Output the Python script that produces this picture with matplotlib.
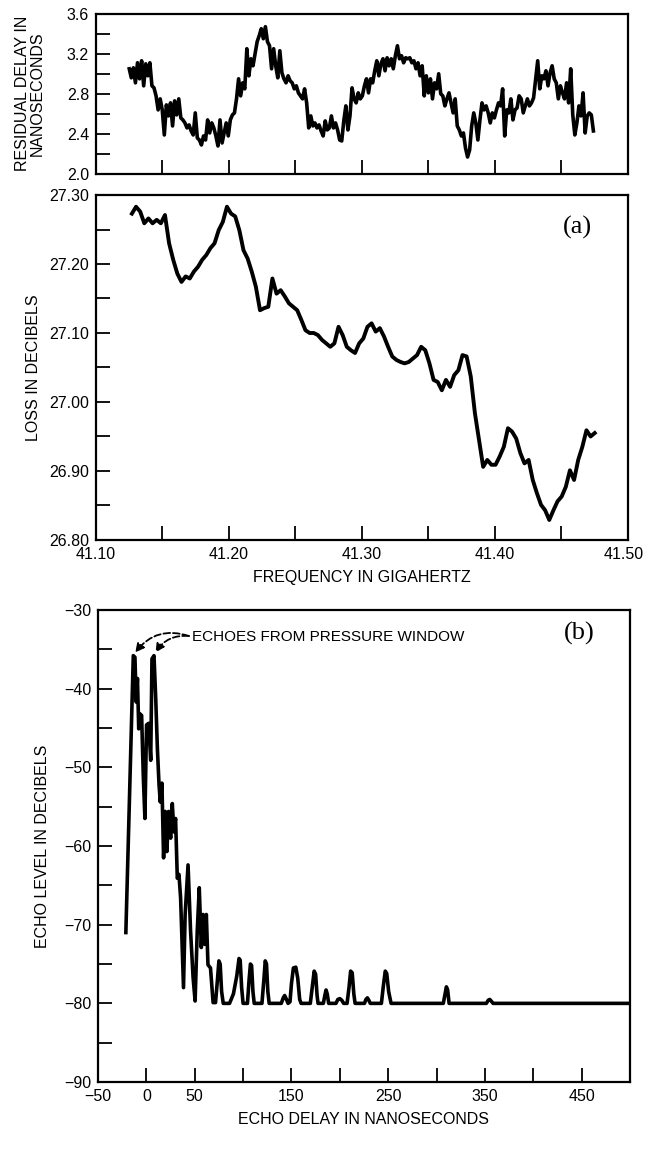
import numpy as np
import matplotlib
matplotlib.use("Agg")
import matplotlib.pyplot as plt
from matplotlib.transforms import ScaledTranslation

plt.rcParams['font.family'] = ['Liberation Sans', 'DejaVu Sans']

# residual delay (ns); uniform frequency sweep
delay = [3.05, 2.96, 3.06, 2.91, 3.11, 2.95, 3.13, 2.88, 3.10, 2.98, 3.11, 2.88, 2.86, 2.78, 2.64,
         2.75, 2.64, 2.39, 2.69, 2.58, 2.71, 2.48, 2.73, 2.59, 2.75, 2.56, 2.54, 2.51, 2.46, 2.49,
         2.43, 2.39, 2.61, 2.36, 2.34, 2.29, 2.38, 2.34, 2.54, 2.41, 2.51, 2.46, 2.38, 2.28, 2.54,
         2.31, 2.41, 2.51, 2.38, 2.54, 2.59, 2.61, 2.75, 2.95, 2.78, 2.91, 2.85, 3.25, 2.98, 3.15,
         3.08, 3.20, 3.32, 3.38, 3.45, 3.35, 3.47, 3.32, 3.28, 3.05, 3.25, 3.08, 2.96, 3.23, 3.01,
         2.95, 2.91, 2.98, 2.93, 2.91, 2.85, 2.88, 2.81, 2.78, 2.75, 2.85, 2.71, 2.46, 2.58, 2.48,
         2.51, 2.46, 2.49, 2.43, 2.38, 2.53, 2.44, 2.46, 2.58, 2.46, 2.51, 2.44, 2.34, 2.33, 2.53,
         2.68, 2.44, 2.58, 2.86, 2.75, 2.71, 2.81, 2.75, 2.78, 2.88, 2.95, 2.81, 2.95, 2.91, 3.03,
         3.13, 2.98, 3.10, 3.15, 3.03, 3.16, 3.08, 3.15, 3.05, 3.18, 3.28, 3.15, 3.18, 3.11, 3.16,
         3.15, 3.16, 3.11, 3.13, 3.05, 3.11, 2.98, 3.08, 2.78, 2.98, 2.81, 2.95, 2.75, 2.91, 2.85,
         3.00, 2.80, 2.78, 2.68, 2.75, 2.81, 2.71, 2.61, 2.75, 2.48, 2.44, 2.38, 2.41, 2.26, 2.17,
         2.24, 2.48, 2.61, 2.51, 2.34, 2.54, 2.71, 2.64, 2.68, 2.61, 2.51, 2.61, 2.56, 2.64, 2.71,
         2.68, 2.85, 2.38, 2.64, 2.61, 2.75, 2.54, 2.64, 2.66, 2.78, 2.75, 2.61, 2.68, 2.75, 2.68,
         2.71, 2.76, 2.95, 3.13, 2.85, 2.98, 2.95, 3.03, 2.88, 3.01, 3.08, 2.95, 2.91, 2.75, 2.88,
         2.81, 2.75, 2.91, 2.71, 3.05, 2.59, 2.39, 2.51, 2.68, 2.58, 2.81, 2.41, 2.58, 2.61, 2.59,
         2.43]
delay_freq = np.linspace(41.125, 41.474, len(delay))

# loss (dB)
loss = [27.273, 27.283, 27.276, 27.259, 27.266, 27.259, 27.264, 27.259, 27.271, 27.230,
        27.206, 27.186, 27.174, 27.182, 27.179, 27.189, 27.196, 27.206, 27.213, 27.223,
        27.230, 27.249, 27.261, 27.283, 27.273, 27.269, 27.249, 27.220, 27.208, 27.189,
        27.167, 27.133, 27.136, 27.138, 27.179, 27.157, 27.162, 27.153, 27.143, 27.138,
        27.133, 27.119, 27.104, 27.100, 27.100, 27.097, 27.090, 27.085, 27.080, 27.085,
        27.109, 27.097, 27.080, 27.075, 27.071, 27.085, 27.092, 27.109, 27.114, 27.102,
        27.107, 27.095, 27.080, 27.066, 27.061, 27.058, 27.056, 27.058, 27.063, 27.068,
        27.080, 27.075, 27.056, 27.032, 27.029, 27.017, 27.032, 27.022, 27.039, 27.046,
        27.068, 27.066, 27.037, 26.984, 26.945, 26.906, 26.916, 26.909, 26.909, 26.921,
        26.935, 26.962, 26.957, 26.947, 26.926, 26.911, 26.916, 26.887, 26.868, 26.851,
        26.843, 26.829, 26.843, 26.856, 26.863, 26.877, 26.901, 26.887, 26.916, 26.935,
        26.959, 26.950, 26.955]
loss_freq = np.linspace(41.127, 41.475, len(loss))

# echo level vs delay
echo_ns = [-21.2, -13.5, -11.8, -10.5, -9.2, -7.9, -6.6, -4.9, -3.2, -1.5, 0.2, 2.4, 4.5, 5.8, 7.9,
           9.7, 11.4, 13.1, 14.4, 16.1, 17.8, 19.5, 21.2, 23.0, 25.1, 26.8, 28.5, 30.2, 32.0, 33.7,
           35.4, 37.1, 38.4, 40.1, 43.1, 45.7, 48.3, 50.4, 52.6, 54.7, 56.8, 58.6, 60.3, 62.0, 63.7,
           66.3, 69.0, 71.5, 73.5, 75.0, 76.3, 77.8, 79.5, 86.0, 90.0, 93.5, 95.8, 97.0, 98.5,
           100.0, 104.5, 106.2, 107.6, 108.8, 110.2, 111.5, 119.5, 121.5, 122.9, 124.2, 125.6,
           127.0, 139.5, 141.5, 143.0, 144.5, 146.5, 148.5, 150.0, 152.0, 154.5, 156.5, 158.5,
           160.0, 169.5, 171.5, 173.5, 175.0, 176.5, 177.5, 183.0, 184.5, 185.8, 187.0, 188.5,
           196.0, 198.0, 200.0, 202.0, 204.0, 207.5, 209.5, 211.2, 212.8, 214.5, 215.8, 225.5,
           227.0, 228.5, 230.0, 231.5, 243.0, 245.0, 247.0, 248.5, 250.5, 253.0, 307.0, 308.8,
           310.2, 311.5, 313.0, 351.5, 353.5, 355.0, 356.5, 358.5, 500.0]
echo_db = [-71.0, -35.8, -36.0, -41.7, -38.7, -45.1, -43.2, -43.4, -51.0, -56.5, -44.6, -44.4,
           -49.1, -36.2, -35.8, -41.3, -47.6, -52.2, -54.4, -52.0, -61.5, -55.6, -60.7, -55.6,
           -59.0, -54.6, -58.2, -56.5, -64.1, -63.6, -66.6, -72.9, -78.0, -68.7, -62.4, -70.8,
           -76.7, -79.7, -70.8, -65.3, -72.9, -68.7, -72.5, -68.7, -75.1, -75.5, -79.9, -79.9,
           -77.0, -74.6, -75.0, -78.5, -80.0, -80.0, -78.8, -76.5, -74.3, -74.5, -78.0, -80.0,
           -80.0, -77.0, -75.0, -75.2, -78.5, -80.0, -80.0, -77.0, -74.6, -75.0, -78.5, -80.0,
           -80.0, -79.3, -79.0, -79.4, -80.0, -79.8, -77.5, -75.5, -75.4, -76.8, -79.5, -80.0,
           -80.0, -78.0, -75.9, -76.3, -79.0, -80.0, -80.0, -79.0, -78.3, -78.8, -80.0, -80.0,
           -79.5, -79.4, -79.6, -80.0, -80.0, -78.0, -75.9, -76.1, -78.8, -80.0, -80.0, -79.5,
           -79.3, -79.6, -80.0, -80.0, -77.8, -75.9, -76.2, -78.5, -80.0, -80.0, -78.8, -77.9,
           -78.3, -80.0, -80.0, -79.6, -79.5, -79.7, -80.0, -80.0]

fig = plt.figure(figsize=(6.46, 11.58), dpi=100)
ax1 = fig.add_axes([0.1486, 0.8497, 0.8235, 0.1385])
ax2 = fig.add_axes([0.1486, 0.5337, 0.8235, 0.2979])
ax3 = fig.add_axes([0.1517, 0.0656, 0.8235, 0.4076])

FS = 11.5
LS = 11.5
for ax in (ax1, ax2, ax3):
    for s in ax.spines.values():
        s.set_linewidth(1.6)
    ax.tick_params(direction='in', length=10, width=1.3, labelsize=FS, pad=5,
                   top=False, right=False)

# (top) residual delay
ax1.plot(delay_freq, delay, color='black', lw=2.6)
ax1.set_xlim(41.10, 41.50)
ax1.set_ylim(2.0, 3.6)
ax1.set_xticks(np.arange(41.15, 41.46, 0.05))
ax1.set_xticklabels([])
ax1.set_yticks(np.arange(2.0, 3.61, 0.2))
ax1.set_yticklabels(['2.0', '', '2.4', '', '2.8', '', '3.2', '', '3.6'])
ax1.set_ylabel('RESIDUAL DELAY IN\nNANOSECONDS', fontsize=LS, labelpad=16, linespacing=1.0)

# (a) loss
ax2.plot(loss_freq, loss, color='black', lw=2.8)
ax2.set_xlim(41.10, 41.50)
ax2.set_ylim(26.80, 27.30)
ax2.set_xticks(np.arange(41.10, 41.501, 0.05))
ax2.set_xticklabels(['41.10', '', '41.20', '', '41.30', '', '41.40', '', '41.50'])
last = ax2.get_xticklabels()[-1]
last.set_transform(last.get_transform() + ScaledTranslation(-4 / 100, 0, fig.dpi_scale_trans))
ax2.set_yticks(np.arange(26.80, 27.301, 0.05))
ax2.set_yticklabels(['26.80', '', '26.90', '', '27.00', '', '27.10', '', '27.20', '', '27.30'])
ax2.set_ylabel('LOSS IN DECIBELS', fontsize=LS, labelpad=6)
ax2.set_xlabel('FREQUENCY IN GIGAHERTZ', fontsize=LS, labelpad=6)
ax2.text(0.905, 0.905, '(a)', transform=ax2.transAxes, fontsize=19,
         family='Liberation Serif', ha='center', va='center')

# (b) echo level
ax3.plot(echo_ns, echo_db, color='black', lw=2.6)
ax3.set_xlim(-50, 500)
ax3.set_ylim(-90, -30)
ax3.set_xticks(np.arange(-50, 501, 50))
ax3.set_xticklabels(['\u221250', '0', '50', '', '150', '', '250', '', '350', '', '450', ''])
ax3.set_yticks(np.arange(-90, -29, 5))
ylabs = []
for v in np.arange(-90, -29, 5):
    ylabs.append('\u2212%d' % abs(v) if v % 10 == 0 else '')
ax3.set_yticklabels(ylabs)
ax3.set_ylabel('ECHO LEVEL IN DECIBELS', fontsize=LS, labelpad=10)
ax3.set_xlabel('ECHO DELAY IN NANOSECONDS', fontsize=LS, labelpad=6)
ax3.text(0.905, 0.95, '(b)', transform=ax3.transAxes, fontsize=19,
         family='Liberation Serif', ha='center', va='center')
ax3.text(47, -33.4, 'ECHOES FROM PRESSURE WINDOW', fontsize=11, ha='left', va='center')
for tx, rad in ((-11.5, 0.35), (9.5, 0.3)):
    ax3.annotate('', xy=(tx, -35.4), xytext=(44, -33.3),
                 arrowprops=dict(arrowstyle='-|>', linestyle='--', color='black', lw=1.3,
                                 mutation_scale=13, shrinkA=0, shrinkB=0,
                                 connectionstyle='arc3,rad=%.2f' % rad))

fig.savefig('out.png', dpi=100)
